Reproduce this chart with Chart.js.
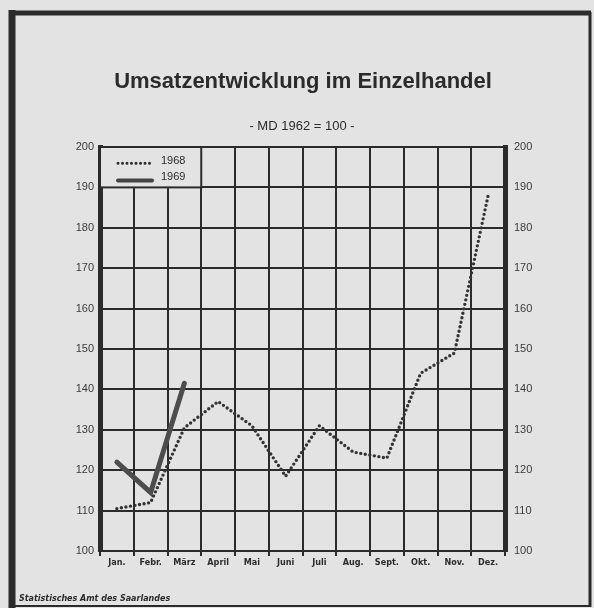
<!DOCTYPE html>
<html>
<head>
<meta charset="utf-8">
<script src="https://cdn.jsdelivr.net/npm/chart.js@4"></script>
<style>
  html, body { margin: 0; padding: 0; background: #e3e3e3; }
  #wrap { width: 594px; height: 608px; }
</style>
</head>
<body>
<div id="wrap"><canvas id="chart" width="594" height="608"></canvas></div>
<script>
// Umsatzentwicklung im Einzelhandel, MD 1962 = 100
const months = ["Jan.", "Febr.", "März", "April", "Mai", "Juni", "Juli", "Aug.", "Sept.", "Okt.", "Nov.", "Dez."];
const sales1968 = [110.5, 112, 130.5, 137, 131, 118.5, 131, 124.5, 123, 144, 149, 188];
const sales1969 = [122, 114.5, 141.5, null, null, null, null, null, null, null, null, null];
const yTicks = [100, 110, 120, 130, 140, 150, 160, 170, 180, 190, 200];

const ink = "#2b2b2b";
const paper = "#e3e3e3";

// title, frame, legend box and footer
const decor = {
  id: "decor",
  beforeDraw(chart) {
    const c = chart.ctx;
    c.save();
    c.fillStyle = paper;
    c.fillRect(0, 0, chart.width, chart.height);
    c.restore();
  },
  afterDraw(chart) {
    const c = chart.ctx;
    const area = chart.chartArea;
    const y = chart.scales.y;
    c.save();

    // frame
    c.strokeStyle = ink;
    c.lineWidth = 7;
    c.beginPath(); c.moveTo(12, 10); c.lineTo(12, 608); c.stroke();
    c.lineWidth = 5;
    c.beginPath(); c.moveTo(9, 13); c.lineTo(591, 13); c.stroke();
    c.lineWidth = 3;
    c.beginPath(); c.moveTo(590, 12); c.lineTo(590, 607); c.stroke();
    c.lineWidth = 2;
    c.beginPath(); c.moveTo(9, 606); c.lineTo(591, 606); c.stroke();

    // titles
    c.fillStyle = ink;
    c.textAlign = "center";
    c.textBaseline = "middle";
    c.font = "bold 22px 'Liberation Sans', Arial, sans-serif";
    c.fillText("Umsatzentwicklung im Einzelhandel", 303, 82);
    c.font = "13px 'Liberation Sans', Arial, sans-serif";
    c.fillText("- MD 1962 = 100 -", 302, 126);

    // footer
    c.textAlign = "left";
    c.font = "italic bold 8px 'DejaVu Sans', sans-serif";
    c.fillText("Statistisches Amt des Saarlandes", 19, 599);

    // legend box over the first three columns, top row
    const colW = (area.right - area.left) / months.length;
    const bx = area.left;
    const bw = colW * 3;
    const by = area.top;
    const bh = y.getPixelForValue(190) - area.top;
    c.fillStyle = paper;
    c.fillRect(bx, by, bw, bh);
    c.strokeStyle = ink;
    c.lineWidth = 2;
    c.strokeRect(bx, by, bw, bh);

    const sx0 = bx + 18, sx1 = bx + 52;
    const r1 = by + bh * 0.4, r2 = by + bh * 0.83;
    c.lineCap = "round";
    c.lineWidth = 3;
    c.setLineDash([0, 4.5]);
    c.beginPath(); c.moveTo(sx0, r1); c.lineTo(sx1, r1); c.stroke();
    c.setLineDash([]);
    c.lineWidth = 4;
    c.strokeStyle = "#444";
    c.beginPath(); c.moveTo(sx0, r2); c.lineTo(sx1, r2); c.stroke();

    c.fillStyle = ink;
    c.font = "11px 'Liberation Sans', Arial, sans-serif";
    c.textAlign = "left";
    c.fillText("1968", sx1 + 9, r1 - 2);
    c.fillText("1969", sx1 + 9, r2 - 4);
    c.restore();
  }
};

const ctx = document.getElementById("chart").getContext("2d");
const chart = new Chart(ctx, {
  type: "line",
  data: {
    labels: months,
    datasets: [
      {
        label: "1968",
        data: sales1968,
        borderColor: "#333",
        borderWidth: 3.4,
        borderDash: [0, 4.6],
        borderCapStyle: "round",
        pointRadius: 0,
        tension: 0
      },
      {
        label: "1969",
        data: sales1969,
        borderColor: "#4d4d4d",
        borderWidth: 5,
        borderCapStyle: "round",
        borderJoinStyle: "miter",
        pointRadius: 0,
        tension: 0,
        spanGaps: false
      }
    ]
  },
  options: {
    responsive: false,
    animation: false,
    layout: { padding: { top: 147, left: 0, right: 0, bottom: 0 } },
    plugins: {
      legend: { display: false },
      tooltip: { enabled: false }
    },
    scales: {
      x: {
        offset: true,
        grid: {
          offset: true,
          color: ink,
          lineWidth: 2,
          tickLength: 5
        },
        border: { display: false },
        ticks: {
          color: ink,
          padding: 1,
          maxRotation: 0,
          autoSkip: false,
          font: { family: "'DejaVu Sans Condensed', 'DejaVu Sans', sans-serif", size: 9, weight: "bold" }
        },
        afterFit(scale) { scale.height = 57; }
      },
      y: {
        position: "left",
        min: 100,
        max: 200,
        afterBuildTicks(scale) { scale.ticks = yTicks.map(v => ({ value: v })); },
        grid: { color: ink, lineWidth: 2, drawTicks: false },
        border: { color: ink, width: 5 },
        ticks: {
          color: "#3a3a3a",
          padding: 6,
          font: { family: "'Liberation Sans', Arial, sans-serif", size: 11 }
        },
        afterFit(scale) { scale.width = 100; }
      },
      y2: {
        position: "right",
        min: 100,
        max: 200,
        afterBuildTicks(scale) { scale.ticks = yTicks.map(v => ({ value: v })); },
        grid: { drawOnChartArea: false, drawTicks: false },
        border: { color: ink, width: 5 },
        ticks: {
          color: "#3a3a3a",
          padding: 9,
          font: { family: "'Liberation Sans', Arial, sans-serif", size: 11 }
        },
        afterFit(scale) { scale.width = 89; }
      }
    }
  },
  plugins: [decor]
});
</script>
</body>
</html>
